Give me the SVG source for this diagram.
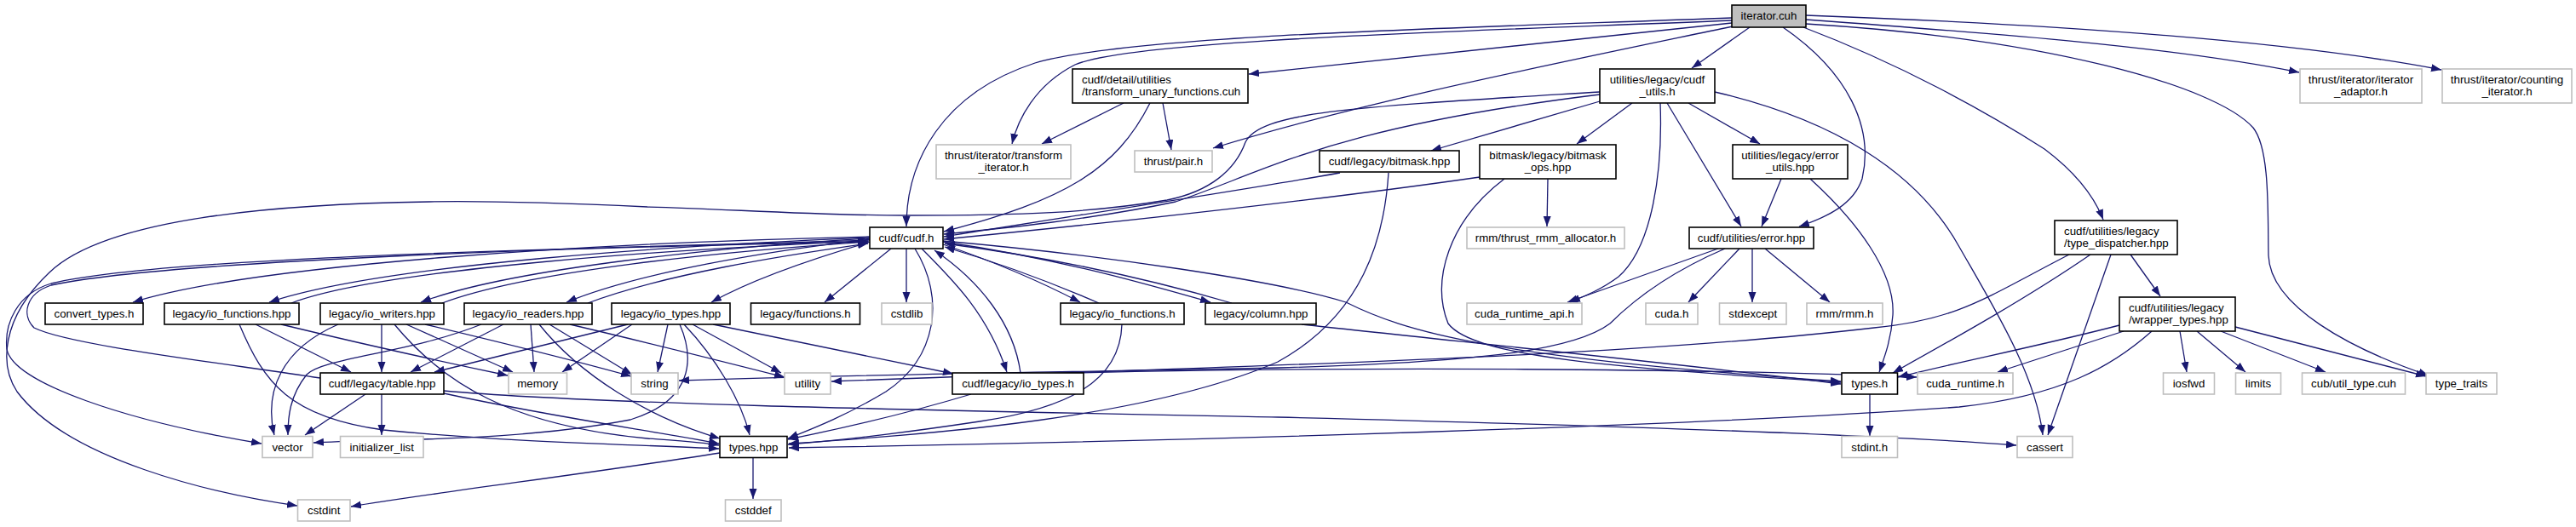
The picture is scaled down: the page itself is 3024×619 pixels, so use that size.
<svg xmlns="http://www.w3.org/2000/svg" width="3024" height="619" viewBox="0 0 3024 619">
<defs>
<marker id="a" markerUnits="userSpaceOnUse" markerWidth="14" markerHeight="10" refX="12" refY="4.5" orient="auto"><path d="M0,0 L12,4.5 L0,9 z" fill="#191970"/></marker>
</defs>
<style>
rect{fill:#fff;stroke:#000;stroke-width:1.6}
.x rect{stroke:#bfbfbf}
.r rect{fill:#bfbfbf}
text{font-family:"Liberation Sans",Arial,sans-serif;font-size:13.3px;fill:#000;text-anchor:middle}
text.l{text-anchor:start}
#edges path{fill:none;stroke:#191970;stroke-width:1.3;marker-end:url(#a)}
</style>
<rect x="0" y="0" width="3024" height="619" style="fill:#fff;stroke:none"/>
<g id="edges">
<path d="M2033,21 C1750,32 1330,40 1215,74 C1105,110 1064,190 1064,266"/>
<path d="M2033,24 C1750,36 1330,46 1262,76 C1215,100 1195,140 1188,169"/>
<path d="M2033,27 C1800,50 1600,72 1466,87"/>
<path d="M2034,31 C1800,80 1600,120 1424,174"/>
<path d="M2054,32 L1986,80"/>
<path d="M2093,32 C2170,85 2200,150 2186,210 C2176,240 2145,255 2112,266"/>
<path d="M2117,32 C2230,75 2330,130 2400,175 C2440,205 2460,235 2469,258"/>
<path d="M2120,23 C2350,40 2550,55 2699,85"/>
<path d="M2120,18 C2450,30 2700,50 2866,82"/>
<path d="M2120,28 C2400,45 2600,100 2645,150 C2665,175 2662,250 2663,300 C2665,360 2760,410 2851,441"/>
<path d="M1319,121 L1223,169"/>
<path d="M1365,121 L1375,176"/>
<path d="M1350,121 C1310,200 1250,235 1108,272"/>
<path d="M1878,119 L1680,177"/>
<path d="M1916,121 L1851,169"/>
<path d="M1982,121 L2066,169"/>
<path d="M1957,121 L2044,266"/>
<path d="M1949,121 C1952,200 1940,290 1900,325 C1880,340 1860,348 1843,355"/>
<path d="M2013,108 C2150,140 2250,200 2300,290 C2340,360 2390,440 2398,511"/>
<path d="M1878,111 C1560,150 1490,200 1380,237 C1280,258 1180,268 1108,275"/>
<path d="M1878,108 C1600,125 1480,130 1462,167 C1450,200 1420,225 1370,235 C1280,250 1200,253 1064,253 C950,253 850,245 760,243 C650,238 560,236 504,237 C300,240 120,260 58,320 C0,375 0,430 20,460 C80,540 250,580 349,594"/>
<path d="M1573,203 C1450,225 1250,255 1108,278"/>
<path d="M1737,208 C1550,235 1300,262 1108,281"/>
<path d="M1630,203 C1625,280 1600,370 1500,425 C1350,490 1100,510 926,521"/>
<path d="M1766,210 C1700,260 1680,330 1700,380 C1730,420 1900,432 2161,449"/>
<path d="M1817,210 L1816,266"/>
<path d="M2091,210 L2068,266"/>
<path d="M2125,210 C2180,260 2225,320 2222,370 C2220,400 2212,420 2206,437"/>
<path d="M2017,292 L1840,355"/>
<path d="M2025,292 C1960,320 1920,350 1890,380 C1850,410 1750,425 1500,432 C1200,438 1000,440 797,447"/>
<path d="M2042,292 L1982,355"/>
<path d="M2057,292 L2057,355"/>
<path d="M2072,292 L2148,355"/>
<path d="M2501,299 L2536,348"/>
<path d="M2478,299 L2404,511"/>
<path d="M2454,299 C2380,350 2290,400 2222,438"/>
<path d="M2429,299 C2330,350 2300,375 2200,385 C1900,420 1500,428 976,448"/>
<path d="M2488,382 C2400,405 2300,425 2228,443"/>
<path d="M2493,389 L2345,437"/>
<path d="M2526,389 C2480,430 2420,465 2300,478 C2000,500 1400,518 926,526"/>
<path d="M2559,389 L2567,437"/>
<path d="M2579,389 L2636,437"/>
<path d="M2607,389 L2730,437"/>
<path d="M2624,384 L2848,442"/>
<path d="M2195,463 L2195,512"/>
<path d="M884,538 L884,586"/>
<path d="M845,532 C700,555 500,580 412,595"/>
<path d="M429,463 L358,511"/>
<path d="M448,463 L448,511"/>
<path d="M521,462 C650,490 760,505 844,521"/>
<path d="M521,459 C700,475 1100,482 1500,490 C1900,500 2200,510 2367,523"/>
<path d="M376,444 C250,425 80,405 40,385 C25,370 30,345 60,335 C200,305 700,290 1020,284"/>
<path d="M1021,282 C700,292 200,300 60,333 C20,345 5,380 8,410 C15,450 150,495 307,521"/>
<path d="M1021,278 C700,285 300,310 156,355"/>
<path d="M1021,279 C800,288 450,310 316,355"/>
<path d="M342,356 C450,315 800,292 1019,283"/>
<path d="M1021,280 C850,290 600,315 494,355"/>
<path d="M519,356 C620,318 850,295 1019,284"/>
<path d="M1021,281 C900,295 750,320 665,355"/>
<path d="M690,356 C780,322 920,300 1019,286"/>
<path d="M1022,284 C950,305 880,330 835,355"/>
<path d="M1046,292 L968,355"/>
<path d="M1064,292 L1064,355"/>
<path d="M1107,287 C1160,305 1220,330 1268,355"/>
<path d="M1290,356 C1230,330 1160,305 1109,290"/>
<path d="M1107,284 C1250,305 1350,335 1421,355"/>
<path d="M1446,356 C1350,328 1230,302 1109,286"/>
<path d="M1082,292 C1120,330 1160,370 1182,437"/>
<path d="M1198,438 C1190,380 1150,330 1097,294"/>
<path d="M1074,292 C1110,350 1100,420 1040,460 C990,490 950,505 925,515"/>
<path d="M1107,283 C1300,300 1500,330 1580,355 C1650,390 1750,420 2161,448"/>
<path d="M300,381 L412,437"/>
<path d="M330,381 C450,410 520,425 596,441"/>
<path d="M281,381 C310,450 340,490 450,505 C600,520 750,522 844,527"/>
<path d="M397,381 C330,410 310,460 322,511"/>
<path d="M448,381 L448,437"/>
<path d="M477,381 L602,437"/>
<path d="M463,381 C520,450 600,500 760,515 C800,518 830,520 844,523"/>
<path d="M499,381 C600,405 680,425 741,442"/>
<path d="M565,381 C480,415 380,420 360,440 C340,465 338,490 338,511"/>
<path d="M591,381 L482,437"/>
<path d="M623,381 L627,437"/>
<path d="M633,381 C680,440 760,490 845,515"/>
<path d="M645,381 L742,440"/>
<path d="M669,381 C750,400 850,425 921,443"/>
<path d="M737,381 L510,437"/>
<path d="M742,381 L660,437"/>
<path d="M798,381 C815,420 815,470 740,493 C600,520 450,515 368,520"/>
<path d="M784,381 L772,437"/>
<path d="M803,381 C840,420 870,470 880,511"/>
<path d="M813,381 L917,438"/>
<path d="M837,381 L1119,439"/>
<path d="M1317,381 C1315,450 1250,480 1150,495 C1050,510 980,518 925,522"/>
<path d="M1528,381 C1700,400 2000,430 2161,451"/>
<path d="M1140,463 C1050,490 980,505 925,516"/>
<path d="M1262,438 C1600,430 2000,433 2250,443"/>
</g>
<g id="n1" class="r"><rect x="2033" y="6" width="87" height="26"/><text x="2076.5" y="23">iterator.cuh</text></g>
<g id="n2"><rect x="1021" y="267" width="86" height="25"/><text x="1064" y="284">cudf/cudf.h</text></g>
<g id="n3"><rect x="1259" y="81" width="206" height="40"/><text class="l" x="1270" y="97.5">cudf/detail/utilities</text><text class="l" x="1270" y="111.5">/transform_unary_functions.cuh</text></g>
<g id="n4" class="x"><rect x="1099" y="170" width="158" height="40"/><text x="1178" y="186.5">thrust/iterator/transform</text><text x="1178" y="200.5">_iterator.h</text></g>
<g id="n5" class="x"><rect x="1332" y="177" width="91" height="25"/><text x="1377.5" y="194">thrust/pair.h</text></g>
<g id="n6"><rect x="1878" y="81" width="135" height="40"/><text x="1945.5" y="97.5">utilities/legacy/cudf</text><text x="1945.5" y="111.5">_utils.h</text></g>
<g id="n7"><rect x="1549" y="177" width="164" height="25"/><text x="1631" y="194">cudf/legacy/bitmask.hpp</text></g>
<g id="n8"><rect x="1737" y="170" width="160" height="40"/><text x="1817" y="186.5">bitmask/legacy/bitmask</text><text x="1817" y="200.5">_ops.hpp</text></g>
<g id="n9"><rect x="2034" y="170" width="135" height="40"/><text x="2101.5" y="186.5">utilities/legacy/error</text><text x="2101.5" y="200.5">_utils.hpp</text></g>
<g id="n10" class="x"><rect x="1722" y="267" width="185" height="25"/><text x="1814.5" y="284">rmm/thrust_rmm_allocator.h</text></g>
<g id="n11"><rect x="1983" y="267" width="146" height="25"/><text x="2056" y="284">cudf/utilities/error.hpp</text></g>
<g id="n12" class="x"><rect x="2700" y="81" width="143" height="40"/><text x="2771.5" y="97.5">thrust/iterator/iterator</text><text x="2771.5" y="111.5">_adaptor.h</text></g>
<g id="n13" class="x"><rect x="2867" y="81" width="152" height="40"/><text x="2943" y="97.5">thrust/iterator/counting</text><text x="2943" y="111.5">_iterator.h</text></g>
<g id="n14"><rect x="2412" y="259" width="144" height="40"/><text class="l" x="2423" y="275.5">cudf/utilities/legacy</text><text class="l" x="2423" y="289.5">/type_dispatcher.hpp</text></g>
<g id="n15"><rect x="53" y="356" width="115" height="25"/><text x="110.5" y="373">convert_types.h</text></g>
<g id="n16"><rect x="193" y="356" width="158" height="25"/><text x="272" y="373">legacy/io_functions.hpp</text></g>
<g id="n17"><rect x="376" y="356" width="145" height="25"/><text x="448.5" y="373">legacy/io_writers.hpp</text></g>
<g id="n18"><rect x="545" y="356" width="150" height="25"/><text x="620" y="373">legacy/io_readers.hpp</text></g>
<g id="n19"><rect x="718" y="356" width="139" height="25"/><text x="787.5" y="373">legacy/io_types.hpp</text></g>
<g id="n20"><rect x="881.5" y="356" width="128" height="25"/><text x="945.5" y="373">legacy/functions.h</text></g>
<g id="n21" class="x"><rect x="1035" y="356" width="59" height="25"/><text x="1064.5" y="373">cstdlib</text></g>
<g id="n22"><rect x="1245" y="356" width="145" height="25"/><text x="1317.5" y="373">legacy/io_functions.h</text></g>
<g id="n23"><rect x="1415" y="356" width="130" height="25"/><text x="1480" y="373">legacy/column.hpp</text></g>
<g id="n24" class="x"><rect x="1722" y="356" width="135" height="25"/><text x="1789.5" y="373">cuda_runtime_api.h</text></g>
<g id="n25" class="x"><rect x="1932" y="356" width="61" height="25"/><text x="1962.5" y="373">cuda.h</text></g>
<g id="n26" class="x"><rect x="2018.5" y="356" width="78.5" height="25"/><text x="2057.75" y="373">stdexcept</text></g>
<g id="n27" class="x"><rect x="2121" y="356" width="89" height="25"/><text x="2165.5" y="373">rmm/rmm.h</text></g>
<g id="n28"><rect x="2488" y="349" width="136" height="40"/><text class="l" x="2499" y="365.5">cudf/utilities/legacy</text><text class="l" x="2499" y="379.5">/wrapper_types.hpp</text></g>
<g id="n29"><rect x="376" y="438" width="145" height="25"/><text x="448.5" y="455">cudf/legacy/table.hpp</text></g>
<g id="n30" class="x"><rect x="597" y="438" width="68.5" height="25"/><text x="631.25" y="455">memory</text></g>
<g id="n31" class="x"><rect x="741" y="438" width="55" height="25"/><text x="768.5" y="455">string</text></g>
<g id="n32" class="x"><rect x="921" y="438" width="54" height="25"/><text x="948" y="455">utility</text></g>
<g id="n33"><rect x="1118" y="438" width="154" height="25"/><text x="1195" y="455">cudf/legacy/io_types.h</text></g>
<g id="n34"><rect x="2162" y="438" width="65.5" height="25"/><text x="2194.75" y="455">types.h</text></g>
<g id="n35" class="x"><rect x="2251" y="438" width="112" height="25"/><text x="2307" y="455">cuda_runtime.h</text></g>
<g id="n36" class="x"><rect x="2539.5" y="438" width="60" height="25"/><text x="2569.5" y="455">iosfwd</text></g>
<g id="n37" class="x"><rect x="2624.5" y="438" width="53" height="25"/><text x="2651" y="455">limits</text></g>
<g id="n38" class="x"><rect x="2702.5" y="438" width="121" height="25"/><text x="2763" y="455">cub/util_type.cuh</text></g>
<g id="n39" class="x"><rect x="2848" y="438" width="83" height="25"/><text x="2889.5" y="455">type_traits</text></g>
<g id="n40" class="x"><rect x="308" y="512.5" width="59" height="25"/><text x="337.5" y="529.5">vector</text></g>
<g id="n41" class="x"><rect x="399.5" y="512.5" width="97.5" height="25"/><text x="448.25" y="529.5">initializer_list</text></g>
<g id="n42"><rect x="845" y="512.5" width="79" height="25"/><text x="884.5" y="529.5">types.hpp</text></g>
<g id="n43" class="x"><rect x="2162" y="512.5" width="65.5" height="25"/><text x="2194.75" y="529.5">stdint.h</text></g>
<g id="n44" class="x"><rect x="2368" y="512.5" width="65" height="25"/><text x="2400.5" y="529.5">cassert</text></g>
<g id="n45" class="x"><rect x="349.5" y="587" width="61.5" height="25"/><text x="380.25" y="604">cstdint</text></g>
<g id="n46" class="x"><rect x="851.5" y="587" width="65.5" height="25"/><text x="884.25" y="604">cstddef</text></g>
</svg>
